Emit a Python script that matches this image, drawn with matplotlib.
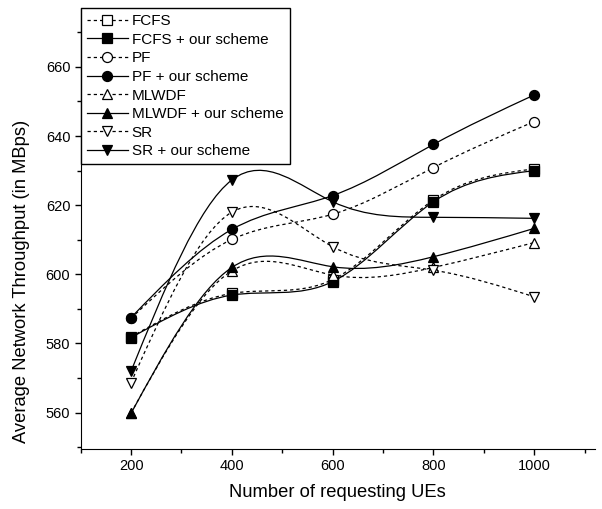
import numpy as np
import matplotlib.pyplot as plt
from matplotlib.path import Path
from matplotlib.patches import PathPatch
from matplotlib.lines import Line2D

plt.rcParams['font.family'] = ['Liberation Sans', 'DejaVu Sans']

ues = [200, 400, 600, 800, 1000]

fcfs = [581.9, 594.5, 598.5, 621.5, 630.5]
fcfs_ours = [581.7, 594.0, 597.9, 621.0, 630.0]
pf = [587.3, 610.1, 617.4, 630.9, 644.2]
pf_ours = [587.5, 613.0, 622.8, 637.6, 651.9]
mlwdf = [559.9, 601.0, 599.8, 602.0, 609.2]
mlwdf_ours = [559.8, 602.0, 602.2, 605.1, 613.3]
sr = [568.7, 618.0, 608.0, 601.2, 593.5]
sr_ours = [572.0, 627.3, 621.0, 616.5, 616.2]

DASH = (0, (2.6, 2.4))

series = [
    ('FCFS', fcfs, 's', 'white', DASH),
    ('FCFS + our scheme', fcfs_ours, 's', 'black', '-'),
    ('PF', pf, 'o', 'white', DASH),
    ('PF + our scheme', pf_ours, 'o', 'black', '-'),
    ('MLWDF', mlwdf, '^', 'white', DASH),
    ('MLWDF + our scheme', mlwdf_ours, '^', 'black', '-'),
    ('SR', sr, 'v', 'white', DASH),
    ('SR + our scheme', sr_ours, 'v', 'black', '-'),
]


def spline_path(x, y):
    # natural cubic spline, written as bezier segments for matplotlib
    x = np.asarray(x, float)
    y = np.asarray(y, float)
    n = len(x)
    h = np.diff(x)
    A = np.zeros((n, n))
    b = np.zeros(n)
    A[0, 0] = A[-1, -1] = 1
    for i in range(1, n - 1):
        A[i, i - 1] = h[i - 1]
        A[i, i] = 2 * (h[i - 1] + h[i])
        A[i, i + 1] = h[i]
        b[i] = 6 * ((y[i + 1] - y[i]) / h[i] - (y[i] - y[i - 1]) / h[i - 1])
    m = np.linalg.solve(A, b)
    verts = [(x[0], y[0])]
    codes = [Path.MOVETO]
    for i in range(n - 1):
        s = (y[i + 1] - y[i]) / h[i]
        d0 = s - h[i] * (2 * m[i] + m[i + 1]) / 6
        d1 = s + h[i] * (m[i] + 2 * m[i + 1]) / 6
        verts += [(x[i] + h[i] / 3, y[i] + d0 * h[i] / 3),
                  (x[i + 1] - h[i] / 3, y[i + 1] - d1 * h[i] / 3),
                  (x[i + 1], y[i + 1])]
        codes += [Path.CURVE4] * 3
    return Path(verts, codes)


fig = plt.figure(figsize=(6.02, 5.09), dpi=100)
ax = fig.add_axes([0.134, 0.118, 0.854, 0.866])

handles = []
for label, vals, mk, fc, ls in series:
    patch = PathPatch(spline_path(ues, vals), fill=False, edgecolor='black',
                      linewidth=0.9, linestyle=ls)
    ax.add_patch(patch)
    ax.plot(ues, vals, linestyle='none', marker=mk, markersize=7.2,
            markerfacecolor=fc, markeredgecolor='black', markeredgewidth=0.9)
    handles.append(Line2D([], [], color='black', linewidth=0.9, linestyle=ls,
                          marker=mk, markersize=7.2, markerfacecolor=fc,
                          markeredgecolor='black', markeredgewidth=0.9))

ax.set_xlim(100, 1120)
ax.set_ylim(549.5, 677)
ax.set_xticks([200, 400, 600, 800, 1000])
ax.set_xticks(np.arange(100, 1120, 100), minor=True)
ax.set_yticks([560, 580, 600, 620, 640, 660])
ax.set_yticks(np.arange(550, 677, 10), minor=True)
ax.spines['top'].set_visible(False)
ax.spines['right'].set_visible(False)
ax.tick_params(direction='out', length=4, width=1, labelsize=10.5)
ax.tick_params(which='minor', direction='out', length=3, width=1)

ax.set_xlabel('Number of requesting UEs', fontsize=13.2, labelpad=8)
ax.set_ylabel('Average Network Throughput (in MBps)', fontsize=13.2)
ax.yaxis.set_label_coords(-0.099, 0.381)

leg = ax.legend(handles, [s[0] for s in series], loc='upper left',
                bbox_to_anchor=(0.0, 1.0), borderaxespad=0, fontsize=11,
                fancybox=False, edgecolor='black', framealpha=1,
                handlelength=2.7, handletextpad=0.25, labelspacing=0.3,
                borderpad=0.4)
leg.get_frame().set_linewidth(1)

fig.savefig('out.png', dpi=100)
